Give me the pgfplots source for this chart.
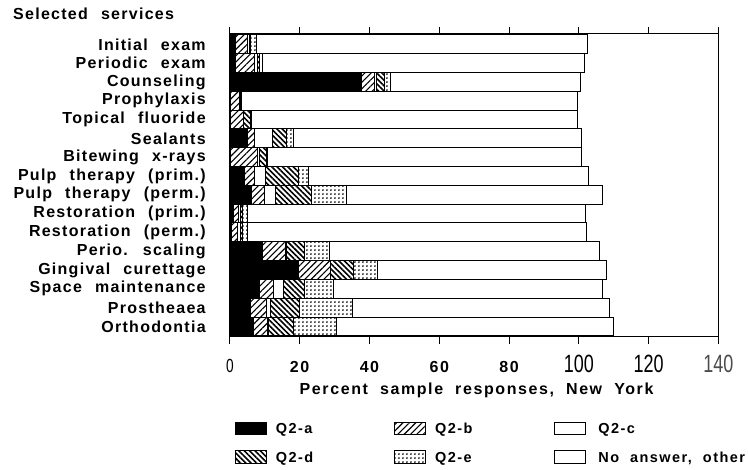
\documentclass[border=0pt]{standalone}
\usepackage{fontspec}
\setmainfont{Liberation Sans}[LetterSpace=8, WordSpace=2.3]
\newfontfamily\xlfont{Liberation Sans}[LetterSpace=10, WordSpace=2]
\newfontfamily\legfont{Liberation Sans}[LetterSpace=10, WordSpace=2]
\newfontfamily\narrowfont{Liberation Sans}[FakeStretch=0.72]
\usepackage{pgfplots}
\pgfplotsset{compat=1.18}
\usetikzlibrary{patterns.meta}
\newcommand{\bt}[1]{\xlfont\fontsize{16}{16}\selectfont\bfseries #1}
\newcommand{\nt}[1]{\narrowfont\fontsize{25}{25}\selectfont #1}
\newcommand{\lt}[1]{\hspace*{9pt}\makebox[118.5pt][l]{#1}}
\begin{document}
\begin{tikzpicture}
\begin{axis}[
  at={(0pt,0pt)}, anchor=south west,
  scale only axis, width=489pt, height=303pt,
  xbar stacked, bar width=1,
  xmin=0, xmax=140, ymin=-0.55, ymax=15.55, y dir=reverse,
  axis line style={line width=1pt},
  xtick={0,20,...,140},
  xticklabels={{\narrowfont\fontsize{19}{19}\selectfont 0},{\bt{20}},{\bt{40}},{\bt{60}},{\bt{80}},{\nt{100}},{\nt{120}},{\color{black!70}\nt{140}}},
  ytick={0,...,15},
  yticklabels={Initial exam,Periodic exam,Counseling,Prophylaxis,Topical fluoride,Sealants,Bitewing x-rays,Pulp therapy (prim.),Pulp therapy (perm.),Restoration (prim.),Restoration (perm.),Perio. scaling,Gingival curettage,Space maintenance,Prostheaea,Orthodontia},
  tick align=outside, major tick length=7pt,
  ytick style={draw=none},
  xtick style={black, line width=0.8pt},
  xticklabel style={anchor=base, inner sep=0pt, yshift=-29pt},
  yticklabel style={anchor=east, inner sep=0pt, xshift=-17pt, font=\fontsize{16}{16}\selectfont\bfseries},
  xlabel={Percent sample responses, New York},
  every axis x label/.style={at={(axis description cs:0.505,0)}, yshift=-54pt, anchor=center, font=\xlfont\fontsize{16}{16}\selectfont\bfseries},
  every axis plot/.append style={draw=black, line width=1pt},
  legend columns=3,
  legend cell align=left,
  legend style={draw=none, fill=none, at={(axis description cs:0,0)}, anchor=north west, xshift=2pt, yshift=-83pt,
    column sep=0pt, row sep=15pt, nodes={inner sep=0pt, font=\legfont\fontsize{14.5}{14.5}\selectfont\bfseries}},
  legend image code/.code={\draw[#1, line width=0.9pt] (0pt,-5.5pt) rectangle (31pt,7pt);},
]
\addplot[fill=black] coordinates {(1.5,0) (1.5,1) (37.8,2) (0.3,3) (0.3,4) (5,5) (0.3,6) (4.3,7) (6.2,8) (1,9) (0.5,10) (9.5,11) (19.6,12) (8.4,13) (6.0,14) (6.7,15)};
\addplot[pattern={Lines[angle=45,distance=4.5pt,line width=1.1pt]}] coordinates {(3.5,0) (5.5,1) (3.7,2) (2.5,3) (3.5,4) (2.2,5) (7.5,6) (2.9,7) (3.8,8) (1.5,9) (1.8,10) (6.5,11) (9.1,12) (4,13) (4.6,14) (4,15)};
\addplot[fill=white] coordinates {(0.5,0) (1,1) (0.5,2) (0.3,3) (0.2,4) (5,5) (0.7,6) (2.9,7) (3.2,8) (0.5,9) (0.8,10) (0.3,11) (0.2,12) (2.9,13) (1.0,14) (0.5,15)};
\addplot[pattern={Lines[angle=-45,distance=3.8pt,line width=1.6pt]}] coordinates {(0.5,0) (0.5,1) (2.3,2) (0.3,3) (1.8,4) (4,5) (2,6) (9.5,7) (10.2,8) (0.5,9) (0.5,10) (5.2,11) (6.5,12) (6.2,13) (8.5,14) (7,15)};
\addplot[pattern={Dots[distance=4pt,radius=1pt]}] coordinates {(1.5,0) (1,1) (1.7,2) (0,3) (0.3,4) (2,5) (0.3,6) (2.9,7) (10,8) (1.5,9) (1.5,10) (7,11) (7,12) (8.1,13) (15,14) (12.3,15)};
\addplot[fill=white] coordinates {(95,0) (92,1) (54.5,2) (96.2,3) (93.6,4) (82.6,5) (90,6) (80.3,7) (73.4,8) (97,9) (97.2,10) (77.3,11) (65.5,12) (77.3,13) (73.7,14) (79.5,15)};
\legend{{\lt{Q2-a}},{\lt{Q2-b}},{\hspace*{13pt}Q2-c},{\lt{Q2-d}},{\lt{Q2-e}},{\hspace*{13pt}No answer, other}}
\end{axis}
\node[anchor=west, inner sep=0pt, font=\fontsize{16}{16}\selectfont\bfseries] at (-217pt,323pt) {Selected services};
\path[use as bounding box] (-230pt,-133pt) rectangle (518pt,337pt);
\end{tikzpicture}
\end{document}
